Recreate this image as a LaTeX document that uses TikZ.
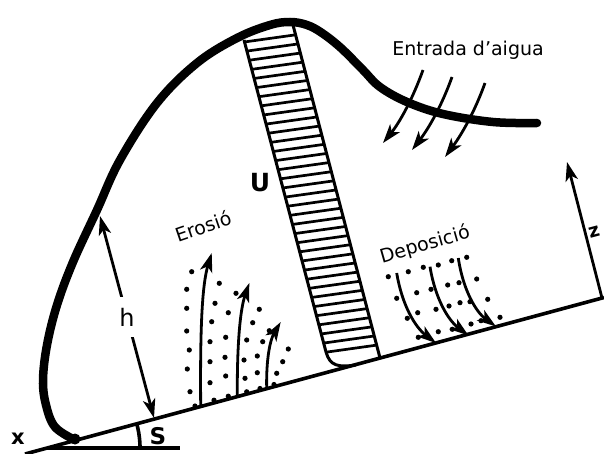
\documentclass[tikz,border=0pt]{standalone}
\usepackage{fontspec}
\setmainfont{DejaVu Sans}
\usetikzlibrary{arrows.meta,calc}
\begin{document}
\begin{tikzpicture}[x=1pt,y=-1pt,
  thickcurve/.style={line width=8.5pt,line cap=round,line join=round},
  ground/.style={line width=3.6pt},
  edge/.style={line width=3pt},
  stripe/.style={line width=2.7pt},
  tip/.tip={Stealth[length=19pt,width=12.5pt,inset=5pt]},
  arr/.style={line width=2.8pt,-tip},
  dbl/.style={line width=2.8pt,tip-tip},
  lbl/.style={font=\fontsize{19}{21}\selectfont,inner sep=0pt},
  blbl/.style={font=\bfseries\fontsize{23}{25}\selectfont,inner sep=0pt}]
\useasboundingbox (0,0) rectangle (604,454);

% ground line and horizontal
\coordinate (g0) at (25,454);
\coordinate (g1) at (604,297.5);
\coordinate (v) at (47,448);
\coordinate (hz) at (180,448);
\draw[ground] (g0) -- (g1);
\draw[ground] (v) -- (hz);
% angle arc
\coordinate (a0) at (140,448);
\coordinate (a1) at (136.7,423.6);
\draw[line width=3.6pt] (a0) .. controls (140,439.8) and (138.9,431.6) .. (a1);

% striped band
\begin{scope}
\clip (244,38) -- (326,352) .. controls (330,365) and (338,367) .. (354,366) -- (380,358) -- (293,20) -- cycle;
\foreach \i in {0,...,34} \draw[stripe] (225,{44.7+\i*9.46}) -- (405,{44.7+\i*9.46-25.2});
\end{scope}
\coordinate (bl0) at (244,40);
\coordinate (bl1) at (326,352);
\coordinate (bl2) at (356,365);
\coordinate (br0) at (293,25);
\coordinate (br1) at (380,358);
\draw[edge] (bl0) -- (bl1) .. controls (330,366) and (338,367.5) .. (bl2);
\draw[edge] (br0) -- (br1);

% main curve
\draw[thickcurve] plot[smooth,tension=0.6] coordinates {(75,440) (55,427) (46,405) (43,380) (47,345) (57,305) (73,262) (97,210) (120,160) (157,103) (197,63) (237,38) (270,25) (290,22) (307,25) (322,33) (341,48) (363,70) (380,87) (407,102) (443,114) (493,122) (537,123)};
\fill (75,439) circle (5.5pt);

% water input arrows
\coordinate (w1s) at (423,70);  \coordinate (w1e) at (383,143);
\coordinate (w2s) at (452,77);  \coordinate (w2e) at (412,150);
\coordinate (w3s) at (485,83);  \coordinate (w3e) at (445,157);
\draw[arr] (w1s) .. controls (413,98) and (400,122) .. (w1e);
\draw[arr] (w2s) .. controls (442,105) and (429,128) .. (w2e);
\draw[arr] (w3s) .. controls (475,111) and (462,134) .. (w3e);

% erosion dots
\foreach \p in {(191.7,271.7),(186.7,289.3),(186.7,308.3),(186.7,331),(189.3,350),(187.3,369),(190,391.7),
(219.3,283.3),(215,303.3),(211.7,321.7),(210,341.7),(210,361.7),(210,382.7),
(236,293.3),(228.3,312.7),(225.7,337.3),(225,357.3),(225.7,376),
(259.3,309.3),(252.7,322.7),(246.7,340),(244,360),(245,378.3),
(269.3,330.7),(262.7,341.7),(257.3,356),(257.3,372.7),
(288.3,349),(282.7,361.7),(276.7,373.3),
(195,406),(214,400.2),(228.3,396.2),(246.7,391.8),(260,388.5),(274,384.5)}
  \fill \p circle (2.6pt);
% erosion arrows
\coordinate (e1s) at (200.7,407); \coordinate (e1e) at (211.7,253);
\coordinate (e2s) at (237.3,397); \coordinate (e2e) at (249.3,283);
\coordinate (e3s) at (266.7,389); \coordinate (e3e) at (280.7,322);
\draw[arr] (e1s) .. controls (200,330) and (202,285) .. (e1e);
\draw[arr] (e2s) .. controls (237,345) and (240,310) .. (e2e);
\draw[arr] (e3s) .. controls (266,360) and (270,340) .. (e3e);

% deposition dots
\foreach \p in {(388.3,276.7),(408.3,271.7),(423.3,267.3),(438.3,265),(451.7,260.7),(466.7,257.3),
(396.7,298.3),(416.7,292.7),(431,289.3),(447.7,285),(459,282.7),(476.7,279),
(407.3,318.3),(417.7,312.7),(436,309.3),(449,306),(460,302.7),(470,301.7),(487.7,299.3),
(418.3,337.3),(438.3,331.7),(452.3,329.3),(471,324),(481,320.7),(500,317.3)}
  \fill \p circle (2.6pt);
% deposition arrows
\coordinate (d1s) at (396.7,273); \coordinate (d1e) at (436,343);
\coordinate (d2s) at (430,266.7); \coordinate (d2e) at (468.5,335.5);
\coordinate (d3s) at (458.3,258); \coordinate (d3e) at (496,326.5);
\draw[arr] (d1s) .. controls (402,305) and (415,327) .. (d1e);
\draw[arr] (d2s) .. controls (435,298) and (448,320) .. (d2e);
\draw[arr] (d3s) .. controls (463,290) and (476,312) .. (d3e);

% h arrow
\coordinate (h1) at (100,216);
\coordinate (h2) at (154,418);
\draw[dbl] (h1) -- (h2) node[pos=0.5,fill=white,minimum height=40pt,inner sep=1pt,font=\fontsize{24}{26}\selectfont] (hl) {h};

% z axis
\coordinate (z0) at (602,298);
\coordinate (z1) at (567,162);
\draw[arr] (z0) -- (z1);

% labels
\node[lbl] (entrada) at (468,50) {Entrada d’aigua};
\node[lbl,rotate=19] (erosio) at (203,226) {Erosió};
\node[lbl,rotate=16] (depo) at (425,245) {Deposició};
\node[blbl,font=\bfseries\fontsize{25}{27}\selectfont] (U) at (260,183) {U};
\node[blbl] (S) at (158,436) {S};
\node[blbl,font=\bfseries\fontsize{21}{23}\selectfont] (x) at (18,439) {x};
\node[blbl,font=\bfseries\fontsize{19}{21}\selectfont,rotate=15] (z) at (594,232) {z};
\end{tikzpicture}
\end{document}
